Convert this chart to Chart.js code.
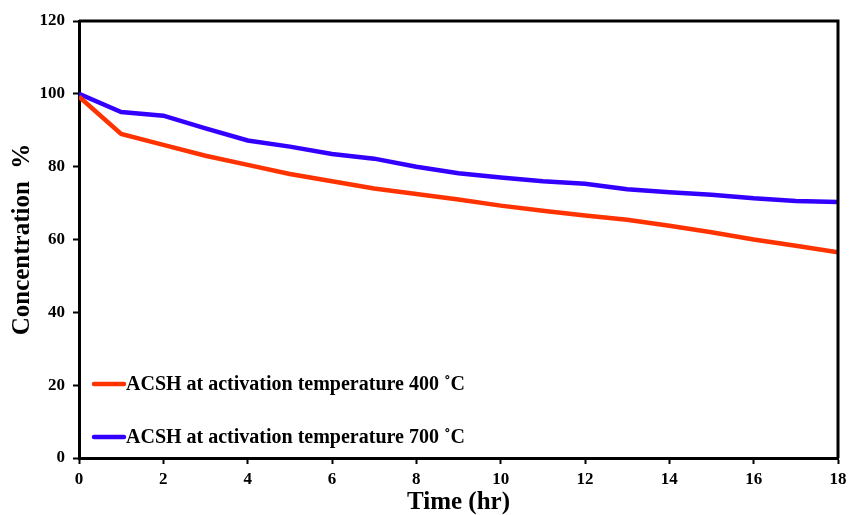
<!DOCTYPE html>
<html>
<head>
<meta charset="utf-8">
<script src="https://cdn.jsdelivr.net/npm/chart.js@4"></script>
<style>
  html, body { margin: 0; padding: 0; background: #fff; }
  #wrap { width: 849px; height: 515px; }
</style>
</head>
<body>
<div id="wrap"><canvas id="myChart"></canvas></div>
<script>
// data
var timeHr = [0, 1, 2, 3, 4, 5, 6, 7, 8, 9, 10, 11, 12, 13, 14, 15, 16, 17, 18];
var conc400 = [99.2, 89, 86, 83, 80.5, 78, 76, 74, 72.5, 71, 69.3, 67.9, 66.6, 65.4, 63.8, 62, 60, 58.3, 56.5];
var conc700 = [100, 95, 94, 90.5, 87.2, 85.5, 83.5, 82.2, 80, 78.2, 77, 76, 75.3, 73.8, 73, 72.3, 71.3, 70.6, 70.3];
var seriesLabels = ['ACSH at activation temperature 400 \u02DAC', 'ACSH at activation temperature 700 \u02DAC'];

var serif = "'Liberation Serif', 'Times New Roman', serif";

function toPoints(ys) {
    return timeHr.map(function (t, i) { return { x: t, y: ys[i] }; });
}

// box around plot + legend inside the plot
var framePlugin = {
    id: 'frame',
    afterDraw: function (chart) {
        var ctx = chart.ctx;
        var a = chart.chartArea;
        ctx.save();
        ctx.strokeStyle = '#000';
        ctx.lineWidth = 3;
        ctx.beginPath();
        ctx.moveTo(a.left, a.top);
        ctx.lineTo(a.right, a.top);
        ctx.lineTo(a.right, a.bottom);
        ctx.stroke();

        var rows = [a.bottom - 74, a.bottom - 21];
        ctx.font = 'bold 20px ' + serif;
        ctx.textBaseline = 'middle';
        chart.data.datasets.forEach(function (ds, i) {
            var y = rows[i];
            ctx.strokeStyle = ds.borderColor;
            ctx.lineWidth = 4.5;
            ctx.lineCap = 'round';
            ctx.beginPath();
            ctx.moveTo(a.left + 15, y);
            ctx.lineTo(a.left + 45, y);
            ctx.stroke();
            ctx.fillStyle = '#000';
            ctx.fillText(ds.label, a.left + 47, y + 1);
        });
        ctx.restore();
    }
};

var ctx1 = document.getElementById('myChart').getContext('2d');

var myChart = new Chart(ctx1, {
    type: 'line',
    data: {
        datasets: [{
            label: seriesLabels[0],
            data: toPoints(conc400),
            borderColor: '#FF3300',
            backgroundColor: '#FF3300',
            borderWidth: 4.5,
            pointRadius: 0,
            tension: 0
        },
        {
            label: seriesLabels[1],
            data: toPoints(conc700),
            borderColor: '#3300FF',
            backgroundColor: '#3300FF',
            borderWidth: 4.5,
            pointRadius: 0,
            tension: 0
        }]
    },
    options: {
        responsive: true,
        maintainAspectRatio: false,
        animation: false,
        layout: {
            padding: { top: 21, right: 11, left: 0, bottom: 0 }
        },
        plugins: {
            legend: { display: false },
            tooltip: { enabled: false }
        },
        scales: {
            x: {
                type: 'linear',
                min: 0,
                max: 18,
                afterFit: function (s) {
                    s.height = 57;
                    s.paddingLeft = 0;
                    s.paddingRight = 0;
                },
                ticks: {
                    stepSize: 2,
                    color: '#000',
                    padding: 5,
                    font: { family: serif, size: 17, weight: 'bold' }
                },
                grid: {
                    drawOnChartArea: false,
                    tickLength: 6,
                    tickWidth: 2,
                    tickColor: '#000'
                },
                border: { color: '#000', width: 3 },
                title: {
                    display: true,
                    text: 'Time (hr)',
                    color: '#000',
                    padding: { top: 0, bottom: 0 },
                    font: { family: serif, size: 25, weight: 'bold', lineHeight: 1 }
                }
            },
            y: {
                min: 0,
                max: 120,
                afterFit: function (s) {
                    s.width = 79;
                    s.paddingTop = 0;
                    s.paddingBottom = 0;
                },
                ticks: {
                    stepSize: 20,
                    color: '#000',
                    padding: 8,
                    font: { family: serif, size: 17, weight: 'bold' }
                },
                grid: {
                    drawOnChartArea: false,
                    tickLength: 6,
                    tickWidth: 2,
                    tickColor: '#000'
                },
                border: { color: '#000', width: 3 },
                title: {
                    display: true,
                    text: 'Concentration  %',
                    color: '#000',
                    padding: { top: 10, bottom: 0 },
                    font: { family: serif, size: 25, weight: 'bold', lineHeight: 1 }
                }
            }
        }
    },
    plugins: [framePlugin]
});
</script>
</body>
</html>
